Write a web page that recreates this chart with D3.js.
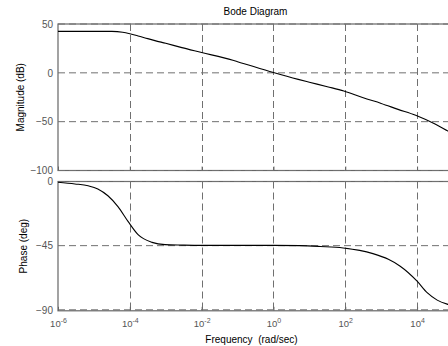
<!DOCTYPE html>
<html>
<head>
<meta charset="utf-8">
<script src="https://cdn.jsdelivr.net/npm/d3@7"></script>
<style>
  body { margin: 0; background: #fff; }
  text { font-family: Arial, "Liberation Sans", sans-serif; }
</style>
</head>
<body>
<div id="container"></div>
<script>
// data (log10 of frequency in rad/sec)
const magLogW = [-6, -5, -4.5, -4.2, -4.0, -3.77, -3.5, -3.3, -3.0, -2.55, -2, -1.13, -1, 0, 0.69, 1, 1.5, 1.96, 2.5, 3, 3.47, 3.96, 4.5, 4.86, 5];
const magDb   = [42.5, 42.5, 42.4, 41.5, 40.0, 37.8, 35.0, 33.0, 30.2, 25.8, 20.8, 12.8, 11.4, 0.3, -6.7, -9.6, -14.2, -18.6, -25.6, -31.3, -37.4, -43.5, -52.5, -59.6, -62.3];

const phaseLogW = [-6, -5.53, -5.16, -4.89, -4.61, -4.33, -4.05, -3.77, -3.38, -3.02, -2.55, -2, -1, 0, 0.74, 1.3, 1.94, 2.4, 2.77, 3.2, 3.53, 4.0, 4.28, 4.56, 4.86, 5];
const phaseDeg  = [-0.5, -1.7, -3.0, -5.2, -10.0, -17.6, -28.0, -37.3, -42.7, -44.3, -44.6, -44.8, -44.8, -44.8, -45.0, -45.6, -46.6, -48.3, -50.6, -54.6, -59.4, -69.9, -78.0, -83.2, -86.2, -87.2];

const xTickExp = [-6, -4, -2, 0, 2, 4];
const magTicks = [50, 0, -50, -100];
const phaseTicks = [0, -45, -90];

const width = 448, height = 346;
const left = 58, right = 453;
const magTop = 24, magBottom = 170.5;
const phTop = 181.5, phBottom = 310.8;

const svg = d3.select("#container").append("svg")
  .attr("width", width)
  .attr("height", height);

const x = d3.scaleLog().domain([1e-6, 1e5]).range([left, right]);
const yMag = d3.scaleLinear().domain([-100, 50]).range([magBottom, magTop]);
const yPh = d3.scaleLinear().domain([-90.7, 0]).range([phBottom, phTop]);

const gridColor = "#707070", axisColor = "#666", labelColor = "#555";

function panel(y, y0, y1, yTicks, data) {
  const g = svg.append("g");

  // box
  g.append("rect")
    .attr("x", left).attr("y", y1)
    .attr("width", right - left).attr("height", y0 - y1)
    .attr("fill", "none").attr("stroke", axisColor).attr("stroke-width", 1.2);

  // grid
  g.selectAll(".vgrid").data(xTickExp.filter(e => e > -6)).enter().append("line")
    .attr("x1", d => Math.round(x(Math.pow(10, d))) + 0.5)
    .attr("x2", d => Math.round(x(Math.pow(10, d))) + 0.5)
    .attr("y1", y1).attr("y2", y0)
    .attr("stroke", gridColor).attr("stroke-dasharray", "7,4");

  g.selectAll(".hgrid").data(yTicks).enter().append("line")
    .attr("x1", left).attr("x2", right)
    .attr("y1", d => y(d)).attr("y2", d => y(d))
    .attr("stroke", gridColor).attr("stroke-dasharray", "7,4");

  // x ticks, pointing inward
  const xa = g.append("g")
    .attr("transform", `translate(0,${y0})`)
    .call(d3.axisBottom(x).tickValues(xTickExp.map(e => Math.pow(10, e))).tickSizeInner(-4).tickSizeOuter(0).tickFormat(""));
  xa.select(".domain").remove();
  xa.selectAll("line").attr("stroke", axisColor);

  // y axis labels
  const ya = g.append("g")
    .attr("transform", `translate(${left},0)`)
    .call(d3.axisLeft(y).tickValues(yTicks).tickSizeInner(0).tickSizeOuter(0).tickPadding(5));
  ya.select(".domain").remove();
  ya.selectAll("text")
    .attr("fill", labelColor)
    .style("font-size", "10px");

  // curve
  const line = d3.line()
    .curve(d3.curveMonotoneX)
    .x(d => x(Math.pow(10, d[0])))
    .y(d => y(d[1]));
  g.append("path")
    .attr("d", line(data))
    .attr("fill", "none")
    .attr("stroke", "#000")
    .attr("stroke-width", 1.1);
  return g;
}

panel(yMag, magBottom, magTop, magTicks, magLogW.map((w, i) => [w, magDb[i]]));
const gp = panel(yPh, phBottom, phTop, phaseTicks, phaseLogW.map((w, i) => [w, phaseDeg[i]]));

// frequency labels 10^n under bottom panel
const xl = gp.append("g")
  .attr("transform", `translate(0,${phBottom})`)
  .call(d3.axisBottom(x).tickValues(xTickExp.map(e => Math.pow(10, e))).tickSize(0).tickPadding(0).tickFormat(""));
xl.select(".domain").remove();
xl.selectAll(".tick").each(function(d) {
  const t = d3.select(this).append("text")
    .attr("y", 16.5)
    .attr("text-anchor", "middle")
    .attr("fill", labelColor);
  t.append("tspan").style("font-size", "9.5px").text("10");
  t.append("tspan").attr("dy", -4.5).style("font-size", "7px").text(Math.round(Math.log10(d)));
});

// titles
svg.append("text")
  .attr("x", (left + right) / 2).attr("y", 15)
  .attr("text-anchor", "middle")
  .style("font-size", "10px")
  .text("Bode Diagram");

svg.append("text")
  .attr("x", (left + right) / 2 - 4).attr("y", 343)
  .attr("text-anchor", "middle")
  .style("font-size", "10px")
  .style("white-space", "pre")
  .attr("xml:space", "preserve")
  .text("Frequency  (rad/sec)");

svg.append("text")
  .attr("transform", `translate(24,${(magTop + magBottom) / 2}) rotate(-90)`)
  .attr("text-anchor", "middle")
  .style("font-size", "10px")
  .text("Magnitude (dB)");

svg.append("text")
  .attr("transform", `translate(27,${(phTop + phBottom) / 2}) rotate(-90)`)
  .attr("text-anchor", "middle")
  .style("font-size", "10px")
  .text("Phase (deg)");
</script>
</body>
</html>
